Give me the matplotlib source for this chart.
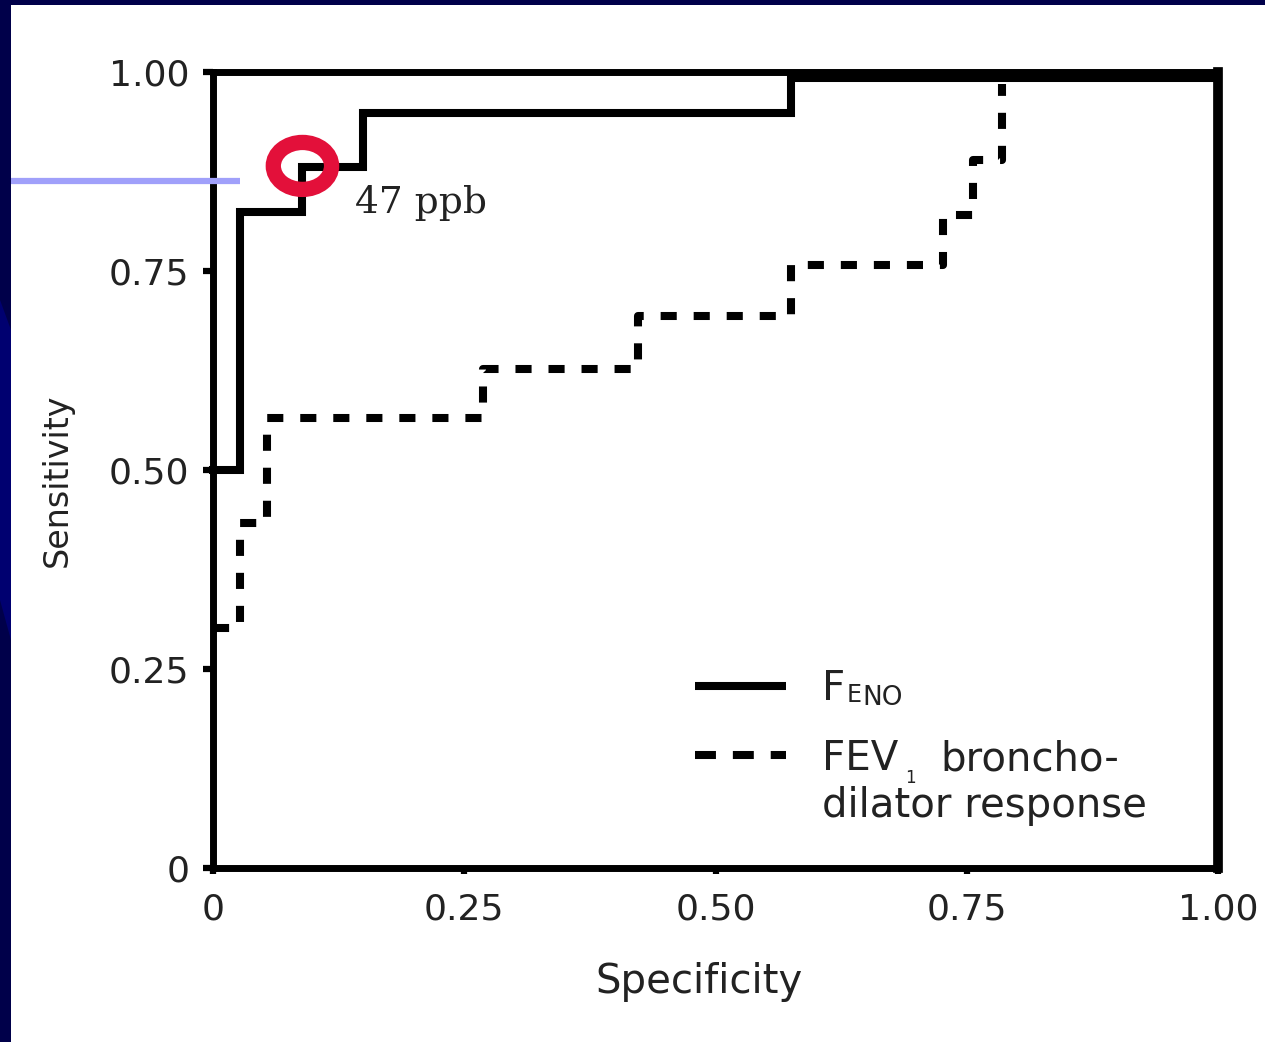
import numpy as np
import matplotlib
matplotlib.use("Agg")
import matplotlib.pyplot as plt
from matplotlib.patches import Ellipse, Rectangle, Polygon
from matplotlib.lines import Line2D

# ROC step curves
feno_spec = [0.0, 0.027, 0.089, 0.149, 0.575, 1.0]
feno_sens = [0.50, 0.824, 0.881, 0.948, 0.993, 0.993]

fev_spec = [0.0, 0.027, 0.054, 0.269, 0.423, 0.575, 0.726, 0.756, 0.785]
fev_sens = [0.302, 0.433, 0.565, 0.627, 0.693, 0.757, 0.820, 0.889, 0.985]

ticks = [0.0, 0.25, 0.50, 0.75, 1.00]
tick_labels = ["0", "0.25", "0.50", "0.75", "1.00"]

cut_spec, cut_sens = 0.089, 0.882   # 47 ppb cut-off
cut_label = "47 ppb"

NAVY = "#00004a"
RED = "#e3103a"
LAVENDER = "#a0a0fa"
TXT = "#222222"
FONT = "DejaVu Sans"

plt.rcParams["font.family"] = [FONT]

fig = plt.figure(figsize=(12.65, 10.42), dpi=100, facecolor=NAVY)
W, H = 1265, 1042

# slide background: white card, navy frame with a lighter swoosh on the left
fig.add_artist(Polygon([(0, 1 - 300 / H), (11 / W, 1 - 330 / H),
                        (11 / W, 1 - 640 / H), (0, 1 - 600 / H)],
                       closed=True, transform=fig.transFigure,
                       facecolor="#000070", edgecolor="none", zorder=-2))
fig.add_artist(Rectangle((11 / W, 0), 1 - 11 / W, 1 - 5 / H,
                         transform=fig.transFigure, facecolor="white",
                         edgecolor="none", zorder=-1))

ax = fig.add_axes([213 / W, 174 / H, 1005 / W, 796 / H])
ax.set_facecolor("none")

ax.step(feno_spec, feno_sens, where="post", color="black", lw=5.8,
        solid_joinstyle="miter", clip_on=False, zorder=3)
ax.step(fev_spec, fev_sens, where="post", color="black", lw=5.8,
        ls=(0, (2.0, 2.1)), clip_on=False, zorder=3)

ax.set_xlim(0, 1)
ax.set_ylim(0, 1)
for s in ax.spines.values():
    s.set_linewidth(5)
    s.set_color("black")
ax.spines["right"].set_linewidth(7)
ax.set_xticks(ticks)
ax.set_xticklabels(tick_labels)
ax.set_yticks(ticks)
ax.set_yticklabels(tick_labels)
ax.tick_params(axis="y", direction="out", length=7, width=4.5, pad=10,
               labelsize=26, labelcolor=TXT)
ax.tick_params(axis="x", direction="out", length=4, width=4.5, pad=14,
               labelsize=26, labelcolor=TXT)

fig.text(699 / W, 1 - 993 / H, "Specificity", fontsize=29,
         color=TXT, ha="center", va="baseline")
fig.text(57 / W, 1 - 480 / H, "Sensitivity", fontsize=24,
         color=TXT, ha="center", va="center", rotation=90)

# highlighted cut-off
ax.add_patch(Ellipse((cut_spec, cut_sens), 0.058, 0.059, fill=False,
                     edgecolor=RED, lw=11, clip_on=False, zorder=5))
ax.text(0.141, 0.835, cut_label, fontsize=27, family="DejaVu Serif",
        color=TXT, ha="left", va="center")

# pointer line from the slide edge
fig.add_artist(Line2D([11 / W, 240 / W], [1 - 181 / H, 1 - 181 / H],
                      transform=fig.transFigure, color=LAVENDER, lw=4.5,
                      solid_capstyle="butt", zorder=6))

# hand-drawn legend
tr = ax.transAxes
ax.plot([0.4796, 0.570], [0.2286, 0.2286], color="black", lw=5.8,
        solid_capstyle="butt", transform=tr)
ax.plot([0.4796, 0.570], [0.142, 0.142], color="black", lw=5.8,
        ls=(0, (2.6, 2.1)), transform=tr)

t_f = ax.text(0.606, 0.211, "F", fontsize=29, color=TXT, transform=tr,
              va="baseline")
t_e = ax.annotate("E", xy=(1, 0), xycoords=t_f, xytext=(1, 1.5),
                  textcoords="offset points", fontsize=17, color=TXT,
                  va="bottom")
ax.annotate("NO", xy=(1, 0), xycoords=t_e, xytext=(0.5, -3),
            textcoords="offset points", fontsize=19, color=TXT,
            va="bottom")

t_fev = ax.text(0.606, 0.123, "FEV", fontsize=29, color=TXT,
                transform=tr, va="baseline")
ax.annotate("1", xy=(1, 0), xycoords=t_fev, xytext=(5, -6),
            textcoords="offset points", fontsize=12, color=TXT,
            va="bottom")
ax.text(0.7234, 0.123, "broncho-", fontsize=29, color=TXT, transform=tr,
        va="baseline")
ax.text(0.606, 0.064, "dilator response", fontsize=29, color=TXT,
        transform=tr, va="baseline")

fig.savefig("out.png", dpi=100, facecolor=NAVY)
